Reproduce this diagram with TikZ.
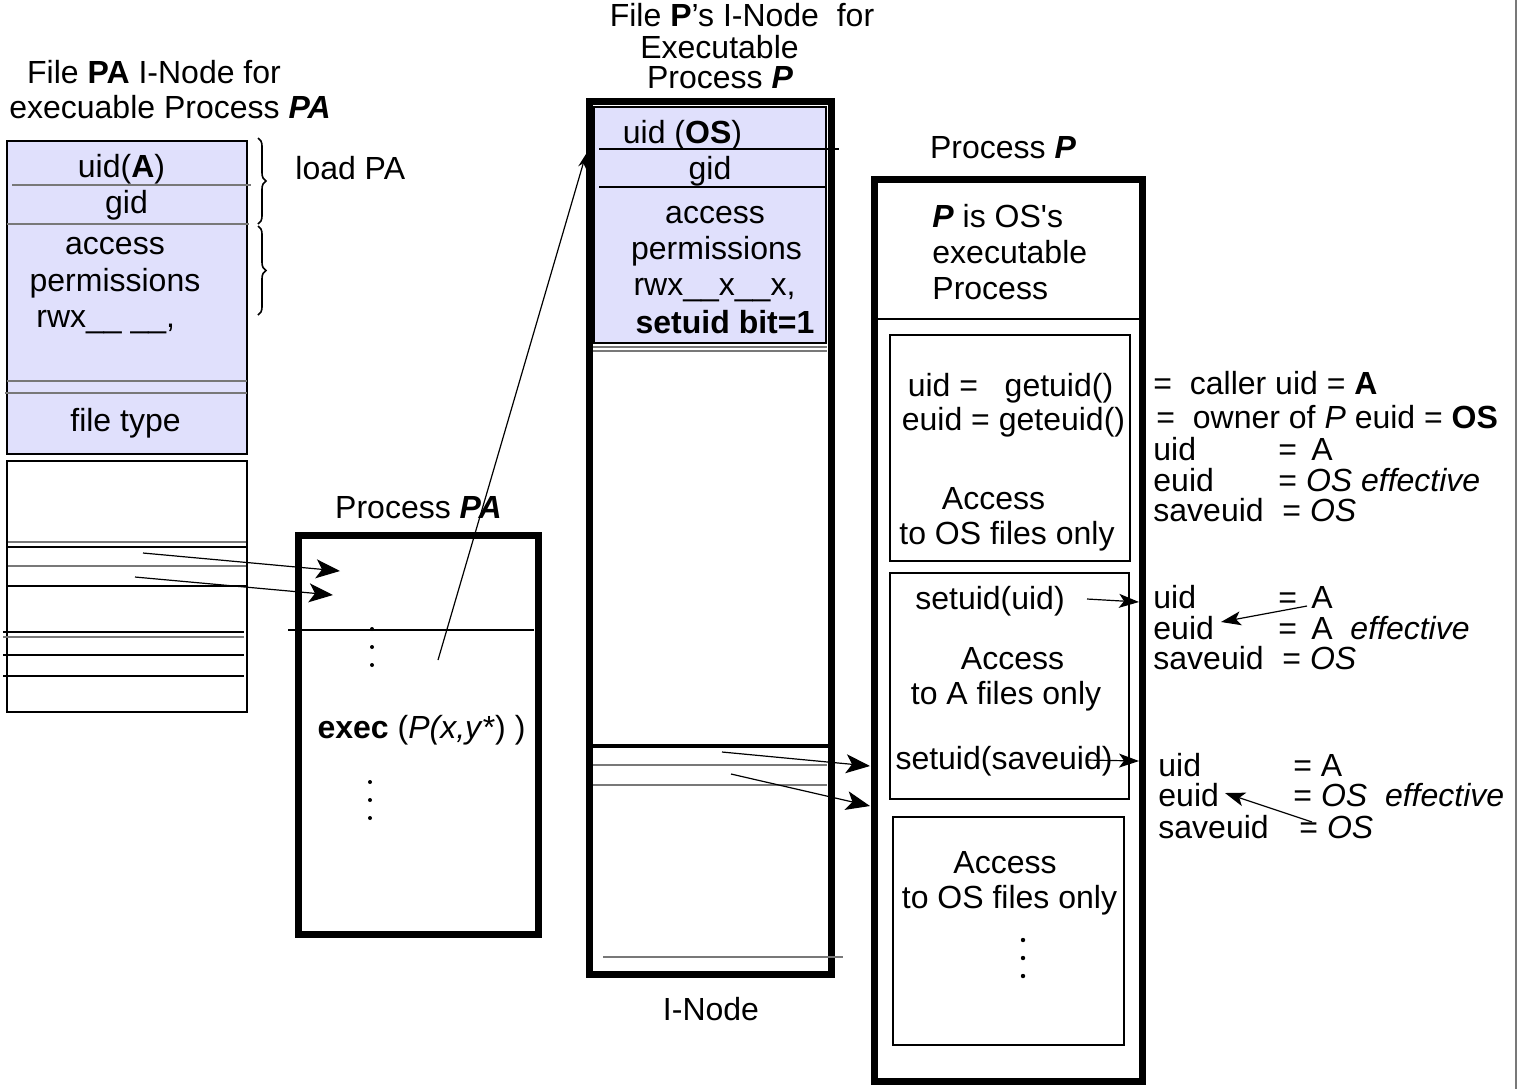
\documentclass[tikz,border=0pt]{standalone}
\usepackage{fontspec}
\setmainfont{Liberation Sans}
\usepackage{tikz}
\usetikzlibrary{arrows.meta, decorations.pathreplacing}
\definecolor{lav}{RGB}{224,224,252}
\definecolor{rule}{RGB}{120,120,120}
\newcommand{\idrow}[3][62.5pt]{\makebox[#1][l]{#2}#3}

\begin{document}
\begin{tikzpicture}[x=0.5pt, y=-0.5pt,
  t/.style={font=\fontsize{16}{18}\selectfont, inner sep=0pt, anchor=base},
  tl/.style={t, anchor=base west},
  heavy/.style={draw, line width=3.5pt},
  boxline/.style={draw, line width=1pt},
  hair/.style={draw=rule, line width=0.6pt},
  thinrule/.style={draw, line width=0.6pt},
  barrow/.style={-{Stealth[length=12pt, width=9.5pt, inset=3pt]}, line width=0.6pt},
  sarrow/.style={-{Stealth[length=10pt, width=7pt, inset=2.5pt]}, line width=0.6pt},
  larrow/.style={-{Stealth[length=7pt, width=4pt]}, line width=0.6pt}]
\useasboundingbox (0,0) rectangle (1518,1089);
\draw[hair] (1516,0) -- (1516,1089);

% i-node of PA
\draw[boxline, fill=lav] (7,141) rectangle (247,454);
\draw[hair] (12,185) -- (251,185);
\draw[hair] (7,224) -- (249,224);
\draw[hair] (7,381) -- (247,381);
\draw[hair] (5,393) -- (247,393);
\draw[boxline] (7,461) rectangle (247,712);
\draw[hair] (8,542) -- (246,542);
\draw[thinrule] (8,547) -- (246,547);
\draw[hair] (8,566) -- (246,566);
\draw[thinrule] (8,586) -- (246,586);
\draw[thinrule] (3,632) -- (244,632);
\draw[hair] (3,637) -- (244,637);
\draw[thinrule] (3,655) -- (244,655);
\draw[thinrule] (3,676) -- (244,676);
\draw[decorate, decoration={brace, amplitude=4pt}, line width=0.8pt] (258,138) -- (258,224);
\draw[decorate, decoration={brace, amplitude=4pt}, line width=0.8pt] (258,226) -- (258,315);
\node[t] (tpa1) at (154,83) {File \textbf{PA} I-Node for};
\node[t] (tpa2) at (170,118) {execuable Process \textbf{\textit{PA}}};
\node[t] (uidA) at (121.5,177) {uid(\textbf{A})};
\node[t] (gidA) at (126.5,213) {gid};
\node[t] (accA) at (115,254) {access};
\node[t] (permA) at (115,291) {permissions};
\node[tl] (rwxA) at (36,327) {rwx\_\_ \_\_,};
\node[t] (ftA) at (125.5,431) {file type};
\node[tl] (ldA) at (295,179) {load PA};

% process PA
\draw[heavy] (298,535) rectangle (538,934);
\draw[line width=1pt] (288,630) -- (534,630);
\foreach \y in {629,647,665} \fill (372,\y) circle (2);
\foreach \y in {782,800,818} \fill (370,\y) circle (2);
\node[t] (tprocA) at (418.5,518) {Process \textbf{\textit{PA}}};
\node[t] (exec) at (421.5,738) {\textbf{exec} (\textit{P(x,y}*) )};
\coordinate (a1) at (143,553); \coordinate (b1) at (340,571);
\coordinate (a2) at (135,577); \coordinate (b2) at (333,595);
\draw[barrow] (a1) -- (b1);
\draw[barrow] (a2) -- (b2);
\coordinate (ex) at (438,660); \coordinate (ip) at (586,154);
\draw[larrow] (ex) -- (ip);

% i-node of P
\draw[heavy] (589,101.5) rectangle (831,974.5);
\draw[thinrule, fill=lav] (594,107) rectangle (826,343);
\draw[thinrule] (599,149) -- (839,149);
\draw[thinrule] (599,187) -- (827,187);
\draw[hair] (593,347) -- (827,347);
\draw[hair] (593,351) -- (827,351);
\draw[line width=2pt] (592,746) -- (828,746);
\draw[hair] (593,765) -- (827,765);
\draw[hair] (593,785) -- (827,785);
\draw[hair] (603,957) -- (843,957);
\node[t] (tp1) at (742,26) {File \textbf{P}’s I-Node\ \ for};
\node[t] (tp2) at (719.5,58) {Executable};
\node[t] (tp3) at (720,88) {Process \textbf{\textit{P}}};
\node[t] (uidP) at (682.5,143) {uid (\textbf{OS})};
\node[t] (gidP) at (710,179) {gid};
\node[t] (accP) at (715,223) {access};
\node[t] (permP) at (716.5,259) {permissions};
\node[t] (rwxP) at (714.5,295) {rwx\_\_x\_\_x,};
\node[t] (sbP) at (725,333) {\textbf{setuid bit=1}};
\node[t] (inode) at (711,1020) {I-Node};
\coordinate (c1) at (722,752); \coordinate (d1) at (870,766);
\coordinate (c2) at (731,774); \coordinate (d2) at (870,806);
\draw[barrow] (c1) -- (d1);
\draw[barrow] (c2) -- (d2);

% process P
\draw[heavy] (874,179.5) rectangle (1142,1081.5);
\draw[line width=1.2pt] (876,319) -- (1140,319);
\draw[boxline] (890,335) rectangle (1130,561);
\draw[boxline] (890,573) rectangle (1129,799);
\draw[boxline] (893,817) rectangle (1124,1045);
\foreach \y in {940,958,976} \fill (1023,\y) circle (2.2);
\node[t] (tprocP) at (1003,158) {Process \textbf{\textit{P}}};
\node[tl] (isOS) at (932,227) {\textbf{\textit{P}} is OS\textquotesingle s};
\node[tl] (exe) at (932,263.5) {executable};
\node[tl] (proc) at (932,299) {Process};
\node[t] (gu) at (1010.5,396) {uid =\ \ \ getuid()};
\node[t] (geu) at (1013.5,430) {euid = geteuid()};
\node[t] (acc1) at (993.5,509) {Access};
\node[t] (os1) at (1007,544) {to OS files only};
\node[t] (su1) at (990,609) {setuid(uid)};
\node[t] (acc2) at (1012.5,669) {Access};
\node[t] (af) at (1006,704) {to A files only};
\node[t] (su2) at (1004,769) {setuid(saveuid)};
\node[t] (acc3) at (1005,873) {Access};
\node[t] (os3) at (1009.5,908) {to OS files only};

% ids after each call
\node[tl] (cu) at (1153,394) {=\ \ caller uid = \textbf{A}};
\node[tl] (ow) at (1156,428) {=\ \ owner of \textit{P} euid = \textbf{OS}};
\node[tl] (u1) at (1153,460) {\idrow{uid}{= \,A}};
\node[tl] (e1) at (1153,491) {\idrow{euid}{= \textit{OS effective}}};
\node[tl] (s1) at (1153,521) {\idrow[64.5pt]{saveuid}{= \textit{OS}}};
\node[tl] (u2) at (1153,608) {\idrow{uid}{= \,A}};
\node[tl] (e2) at (1153,639) {\idrow{euid}{= \,A\ \ \textit{effective}}};
\node[tl] (s2) at (1153,669) {\idrow[64.5pt]{saveuid}{= \textit{OS}}};
\node[tl] (u3) at (1158,776) {\idrow[67.5pt]{uid}{= A}};
\node[tl] (e3) at (1158,806) {\idrow[67.5pt]{euid}{= \textit{OS}\ \ \textit{effective}}};
\node[tl] (s3) at (1158,838) {\idrow[70.5pt]{saveuid}{= \textit{OS}}};
\coordinate (f1) at (1087,599); \coordinate (g1) at (1139,602);
\coordinate (f2) at (1087,760); \coordinate (g2) at (1139,761);
\coordinate (h1) at (1307,606); \coordinate (k1) at (1221,622);
\coordinate (h2) at (1312,822); \coordinate (k2) at (1225,793);
\draw[sarrow] (f1) -- (g1);
\draw[sarrow] (f2) -- (g2);
\draw[sarrow] (h1) -- (k1);
\draw[sarrow] (h2) -- (k2);
\end{tikzpicture}
\end{document}
